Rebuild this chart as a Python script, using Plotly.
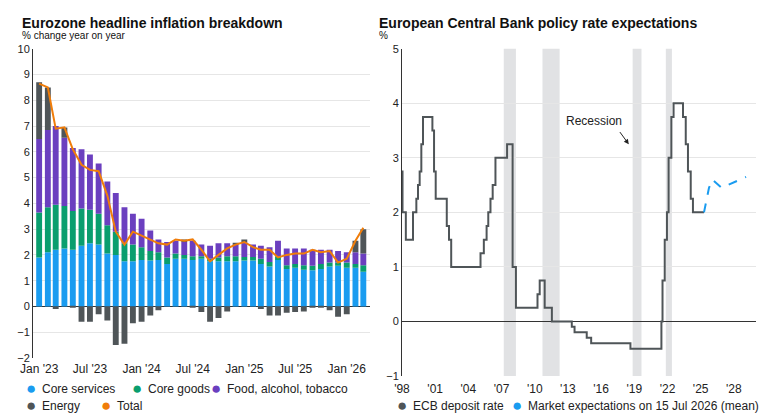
import plotly.graph_objects as go

# ---------- DATA ----------
months = ["2023-%02d" % m for m in range(1, 13)] + ["2024-%02d" % m for m in range(1, 13)] \
    + ["2025-%02d" % m for m in range(1, 13)] + ["2026-%02d" % m for m in range(1, 4)]
months = [m + "-01" for m in months]

core_services = [1.9, 2.1, 2.2, 2.25, 2.2, 2.35, 2.45, 2.4, 2.05, 2.0, 1.75, 1.75, 1.8,
                 1.78, 1.8, 1.65, 1.85, 1.85, 1.8, 1.85, 1.75, 1.75, 1.75, 1.75, 1.78, 1.78,
                 1.65, 1.55, 1.8, 1.45, 1.5, 1.42, 1.4, 1.45, 1.55, 1.58, 1.5, 1.5, 1.35]
core_goods = [1.75, 1.75, 1.75, 1.65, 1.5, 1.45, 1.3, 1.2, 1.1, 0.9, 0.7, 0.65, 0.5,
              0.37, 0.3, 0.25, 0.2, 0.15, 0.15, 0.1, 0.1, 0.15, 0.2, 0.2, 0.14, 0.14,
              0.2, 0.17, 0.15, 0.15, 0.15, 0.18, 0.18, 0.2, 0.15, 0.12, 0.2, 0.15, 0.25]
food = [2.85, 3.0, 3.05, 2.65, 2.45, 2.3, 2.15, 1.95, 1.7, 1.5, 1.4, 1.2, 1.1,
        0.8, 0.5, 0.6, 0.5, 0.5, 0.6, 0.45, 0.5, 0.55, 0.5, 0.45, 0.58, 0.48,
        0.5, 0.58, 0.6, 0.65, 0.6, 0.65, 0.62, 0.55, 0.5, 0.45, 0.4, 0.45, 0.45]
energy = [2.2, 1.65, -0.1, 0.4, -0.05, -0.6, -0.6, -0.3, -0.55, -1.5, -1.45, -0.65, -0.6,
          -0.35, -0.15, 0.0, 0.0, 0.1, -0.05, -0.22, -0.6, -0.45, -0.2, 0.05, 0.1, 0.0,
          -0.1, -0.35, -0.35, -0.25, -0.22, -0.2, -0.02, -0.05, -0.15, -0.4, -0.3, 0.45, 0.95]
total = [8.65, 8.5, 6.9, 6.95, 6.1, 5.5, 5.3, 5.25, 4.3, 2.9, 2.4, 2.9, 2.75, 2.6, 2.45,
         2.4, 2.6, 2.55, 2.6, 2.2, 1.75, 2.0, 2.25, 2.4, 2.5, 2.3, 2.2, 2.2, 1.9, 2.0,
         2.05, 2.05, 2.2, 2.1, 2.15, 1.7, 1.85, 2.55, 3.05]
left_ticks = ["2023-01-01", "2023-07-01", "2024-01-01", "2024-07-01",
              "2025-01-01", "2025-07-01", "2026-01-01"]
left_ticktext = ["Jan '23", "Jul '23", "Jan '24", "Jul '24", "Jan '25", "Jul '25", "Jan '26"]

ecb_x = [1998.0, 1998.05, 1998.35, 1999.0, 1999.3, 1999.45, 1999.6, 1999.75, 1999.9,
         2000.6, 2000.75, 2000.9, 2001.05, 2001.9, 2002.05, 2002.25, 2002.45, 2004.9,
         2005.1, 2005.4, 2005.65, 2005.8, 2006.0, 2006.2, 2006.45, 2007.5, 2007.85,
         2008.0, 2008.3, 2010.25, 2010.45, 2010.65, 2010.9, 2011.55, 2013.35, 2013.6,
         2014.7, 2015.1, 2018.65, 2021.4, 2021.45, 2021.55, 2021.75, 2021.95, 2022.1,
         2022.35, 2022.55, 2022.7, 2023.4, 2023.65, 2023.85, 2024.1, 2024.3, 2025.3]
ecb_rate = [2.75, 2.0, 1.5, 2.0, 2.25, 2.5, 2.75, 3.25, 3.75,
            3.75, 3.5, 2.75, 2.25, 2.25, 1.75, 1.5, 1.0, 1.0,
            1.25, 1.5, 1.75, 2.0, 2.25, 2.5, 3.0, 3.25, 3.25,
            1.0, 0.25, 0.5, 0.75, 0.75, 0.25, 0.0, -0.1, -0.2,
            -0.3, -0.4, -0.5, -0.5, 0.0, 0.75, 1.5, 2.0, 3.0,
            3.75, 4.0, 4.0, 3.75, 3.25, 2.75, 2.25, 2.0, 2.0]
mkt_x = [2025.3, 2025.75, 2026.05, 2026.9, 2029.1]
mkt_rate = [2.0, 2.45, 2.6, 2.45, 2.65]
recessions = [(2007.2, 2008.3), (2010.7, 2012.25), (2018.85, 2019.65), (2021.85, 2022.4)]
right_ticks = list(range(1998, 2029, 3))
right_ticktext = ["'%02d" % (y % 100) for y in right_ticks]

# ---------- FIGURE ----------
W, H = 780, 419


# screen pixel -> paper fraction (measured offset/scale of the rendered page)
def px(x):
    return max(0.0, (x - 18) / 0.986 / W)


def py(y):
    return min(1.0, 1 - (y - 13.2) / 0.971 / H)


BLUE, GREEN, PURPLE, GREY, ORANGE = "#1a9cf0", "#0a9e6e", "#6b3fbf", "#4f5558", "#f07d0a"
AXCOL = "#333333"
font = dict(family="Liberation Sans, Arial", size=11, color="#222")

fig = go.Figure()
for name, vals, col in [("Core services", core_services, BLUE), ("Core goods", core_goods, GREEN),
                        ("Food, alcohol, tobacco", food, PURPLE), ("Energy", energy, GREY)]:
    fig.add_trace(go.Bar(x=months, y=vals, name=name, marker=dict(color=col, line_width=0),
                         xaxis="x", yaxis="y"))
fig.add_trace(go.Scatter(x=months, y=total, name="Total", mode="lines",
                         line=dict(color=ORANGE, width=2), xaxis="x", yaxis="y"))

fig.add_trace(go.Scatter(x=ecb_x, y=ecb_rate, name="ECB deposit rate", mode="lines",
                         line=dict(color=GREY, width=2, shape="hv"), xaxis="x2", yaxis="y2"))
fig.add_trace(go.Scatter(x=mkt_x, y=mkt_rate, name="Market expectations on 15 Jul 2026 (mean)",
                         mode="lines", line=dict(color="#1a9cf0", width=2, dash="dash"),
                         xaxis="x2", yaxis="y2"))

for x0, x1 in recessions:
    fig.add_shape(type="rect", xref="x2", yref="y2 domain", x0=x0, x1=x1, y0=0, y1=1,
                  fillcolor="#e1e2e4", line_width=0, layer="below")

fig.add_annotation(xref="x2", yref="y2", x=2018.5, y=3.25, ax=2017.6, ay=3.5,
                   axref="x2", ayref="y2", showarrow=True, arrowhead=2, arrowsize=1,
                   arrowwidth=1, arrowcolor="#222", text="")
fig.add_annotation(xref="x2", yref="y2", x=2015.4, y=3.67, text="Recession",
                   showarrow=False, font=dict(size=12, color="#222"))

for text, x, y, size, anchor in [
        ("<b>Eurozone headline inflation breakdown</b>", 2, 0, 14, "top"),
        ("% change year on year", 2, 35, 10, "middle"),
        ("<b>European Central Bank policy rate expectations</b>", 376, 0, 14, "top"),
        ("%", 376, 35, 10, "middle")]:
    fig.add_annotation(xref="paper", yref="paper", x=px(x), y=py(y), xanchor="left",
                       yanchor=anchor, text=text, showarrow=False, borderpad=0,
                       font=dict(size=size, color="#111"))

# legend entries drawn as annotations (dot + label), positions in screen pixels
legend_items = [
    ("Core services", BLUE, 28, 388), ("Core goods", GREEN, 134, 388),
    ("Food, alcohol, tobacco", PURPLE, 214, 388), ("Energy", GREY, 28, 405),
    ("Total", ORANGE, 103, 405), ("ECB deposit rate", GREY, 400, 405),
    ("Market expectations on 15 Jul 2026 (mean)", "#1a9cf0", 515, 405),
]
for label, col, lx, ly in legend_items:
    fig.add_annotation(xref="paper", yref="paper", x=px(lx), y=py(ly),
                       xanchor="center", yanchor="middle", text="●", showarrow=False,
                       font=dict(size=17, color=col))
    fig.add_annotation(xref="paper", yref="paper", x=px(lx + 9), y=py(ly),
                       xanchor="left", yanchor="middle", text=label, showarrow=False,
                       font=dict(size=12, color="#222"))

grid = "#e6e6e6"
fig.update_layout(
    width=W, height=H, margin=dict(l=0, r=0, t=0, b=0),
    plot_bgcolor="white", paper_bgcolor="white", font=font,
    barmode="relative", bargap=0.25, showlegend=False,
    xaxis=dict(domain=[px(30), px(368)], type="date", tickvals=left_ticks,
               ticktext=left_ticktext, range=["2022-12-10", "2026-03-25"], showgrid=False,
               ticks="", showline=False, ticklabelstandoff=2, tickfont=dict(size=12)),
    yaxis=dict(domain=[py(357), py(48)], range=[-2, 10], dtick=1, gridcolor=grid,
               showline=True, linecolor=AXCOL, zeroline=True, zerolinecolor=AXCOL,
               zerolinewidth=1, ticks="", anchor="x"),
    xaxis2=dict(domain=[px(400), px(755)], range=[1998, 2030], tickvals=right_ticks,
                ticktext=right_ticktext, showgrid=False, ticks="", showline=False,
                anchor="y2", ticklabelstandoff=4, tickfont=dict(size=12)),
    yaxis2=dict(domain=[py(375), py(48)], range=[-1, 5], dtick=1, gridcolor=grid,
                showline=True, linecolor=AXCOL, zeroline=True, zerolinecolor=AXCOL,
                zerolinewidth=1, ticks="", anchor="x2"),
)

fig.write_html("out.html")
